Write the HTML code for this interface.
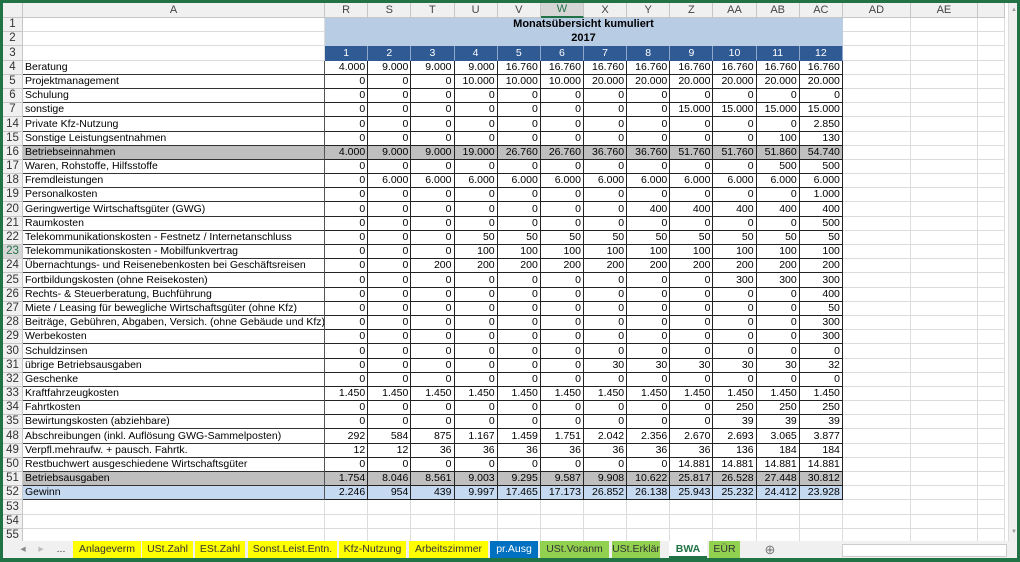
<!DOCTYPE html>
<html><head><meta charset="utf-8"><style>
body{margin:0;width:1020px;height:562px;background:#217346;position:relative;overflow:hidden;font-family:"Liberation Sans",sans-serif}
#sheet{position:absolute;left:3px;top:3px;width:1014px;height:538px;background:#fff;overflow:hidden}
table{position:absolute;left:0;top:0;border-collapse:separate;border-spacing:0;table-layout:fixed;width:1002px}
td{padding:0 2px;border-right:1px solid #dcdcdc;border-bottom:1px solid #dcdcdc;height:14.2px;box-sizing:border-box;white-space:nowrap;overflow:hidden;font-size:10.5px;line-height:13px;color:#000;vertical-align:bottom}
tr.h td{height:13.3px;background:#f0f0f0;text-align:center;color:#444;border-color:#c6c6c6;font-size:11px;vertical-align:middle}
td.n{background:#f0f0f0;text-align:center;color:#333;border-color:#c6c6c6;font-size:11.5px;padding:0}
tr.d td:nth-child(2){border-bottom-color:#333;border-right-color:#555}
tr.d td:nth-child(n+3):nth-child(-n+14){text-align:right;border-color:#222}
tr.t td.m{background:#b8cce4;font-weight:bold;text-align:center;border-right:1px solid #b8cce4;border-bottom-color:#b8cce4;font-size:11px}
tr.b td.k{background:#2f5a93;color:#fff;text-align:center;border-right:1px solid #8ea9cf;border-bottom:1px solid #2f5a93}
tr.g td:nth-child(2),tr.g td:nth-child(n+3):nth-child(-n+14){background:#bfbfbf}
tr.l td:nth-child(2),tr.l td:nth-child(n+3):nth-child(-n+14){background:#c5d9f1}
#vs{position:absolute;left:1005px;top:0;width:9px;height:538px;background:#f0f0f0;border-left:1px solid #ddd}
#tabs{position:absolute;left:3px;top:541px;width:1014px;height:17px;background:#f0f0f0}
.tab{position:absolute;top:0;height:17px;font-size:10.5px;line-height:17px;text-align:center;color:#333}
.y{background:#ffff00}.gr{background:#92d050}.bl{background:#0070c0;color:#fff}
</style></head><body>
<div id="sheet">
<table>
<colgroup><col style="width:20px"><col style="width:302px">
<col style="width:43.17px"><col style="width:43.17px"><col style="width:43.17px"><col style="width:43.17px"><col style="width:43.17px"><col style="width:43.17px"><col style="width:43.17px"><col style="width:43.17px"><col style="width:43.17px"><col style="width:43.17px"><col style="width:43.17px"><col style="width:43.17px">
<col style="width:68px"><col style="width:67px"><col style="width:27px"></colgroup>
<tr class="h"><td></td><td>A</td><td>R</td><td>S</td><td>T</td><td>U</td><td>V</td><td style="background:#d6d6d6;color:#217346;border-bottom:2px solid #217346">W</td><td>X</td><td>Y</td><td>Z</td><td>AA</td><td>AB</td><td>AC</td><td>AD</td><td>AE</td><td></td></tr>
<tr class="t"><td class="n">1</td><td></td><td class="m" colspan="12">Monatsübersicht kumuliert</td><td></td><td></td><td></td></tr>
<tr class="t"><td class="n">2</td><td></td><td class="m" colspan="12">2017</td><td></td><td></td><td></td></tr>
<tr class="b"><td class="n">3</td><td></td><td class="k">1</td><td class="k">2</td><td class="k">3</td><td class="k">4</td><td class="k">5</td><td class="k">6</td><td class="k">7</td><td class="k">8</td><td class="k">9</td><td class="k">10</td><td class="k">11</td><td class="k">12</td><td></td><td></td><td></td></tr>
<tr class="d"><td class="n">4</td><td>Beratung</td><td>4.000</td><td>9.000</td><td>9.000</td><td>9.000</td><td>16.760</td><td>16.760</td><td>16.760</td><td>16.760</td><td>16.760</td><td>16.760</td><td>16.760</td><td>16.760</td><td></td><td></td><td></td></tr>
<tr class="d"><td class="n">5</td><td>Projektmanagement</td><td>0</td><td>0</td><td>0</td><td>10.000</td><td>10.000</td><td>10.000</td><td>20.000</td><td>20.000</td><td>20.000</td><td>20.000</td><td>20.000</td><td>20.000</td><td></td><td></td><td></td></tr>
<tr class="d"><td class="n">6</td><td>Schulung</td><td>0</td><td>0</td><td>0</td><td>0</td><td>0</td><td>0</td><td>0</td><td>0</td><td>0</td><td>0</td><td>0</td><td>0</td><td></td><td></td><td></td></tr>
<tr class="d"><td class="n">7</td><td>sonstige</td><td>0</td><td>0</td><td>0</td><td>0</td><td>0</td><td>0</td><td>0</td><td>0</td><td>15.000</td><td>15.000</td><td>15.000</td><td>15.000</td><td></td><td></td><td></td></tr>
<tr class="d"><td class="n">14</td><td>Private Kfz-Nutzung</td><td>0</td><td>0</td><td>0</td><td>0</td><td>0</td><td>0</td><td>0</td><td>0</td><td>0</td><td>0</td><td>0</td><td>2.850</td><td></td><td></td><td></td></tr>
<tr class="d"><td class="n">15</td><td>Sonstige Leistungsentnahmen</td><td>0</td><td>0</td><td>0</td><td>0</td><td>0</td><td>0</td><td>0</td><td>0</td><td>0</td><td>0</td><td>100</td><td>130</td><td></td><td></td><td></td></tr>
<tr class="d g"><td class="n">16</td><td>Betriebseinnahmen</td><td>4.000</td><td>9.000</td><td>9.000</td><td>19.000</td><td>26.760</td><td>26.760</td><td>36.760</td><td>36.760</td><td>51.760</td><td>51.760</td><td>51.860</td><td>54.740</td><td></td><td></td><td></td></tr>
<tr class="d"><td class="n">17</td><td>Waren, Rohstoffe, Hilfsstoffe</td><td>0</td><td>0</td><td>0</td><td>0</td><td>0</td><td>0</td><td>0</td><td>0</td><td>0</td><td>0</td><td>500</td><td>500</td><td></td><td></td><td></td></tr>
<tr class="d"><td class="n">18</td><td>Fremdleistungen</td><td>0</td><td>6.000</td><td>6.000</td><td>6.000</td><td>6.000</td><td>6.000</td><td>6.000</td><td>6.000</td><td>6.000</td><td>6.000</td><td>6.000</td><td>6.000</td><td></td><td></td><td></td></tr>
<tr class="d"><td class="n">19</td><td>Personalkosten</td><td>0</td><td>0</td><td>0</td><td>0</td><td>0</td><td>0</td><td>0</td><td>0</td><td>0</td><td>0</td><td>0</td><td>1.000</td><td></td><td></td><td></td></tr>
<tr class="d"><td class="n">20</td><td>Geringwertige Wirtschaftsgüter (GWG)</td><td>0</td><td>0</td><td>0</td><td>0</td><td>0</td><td>0</td><td>0</td><td>400</td><td>400</td><td>400</td><td>400</td><td>400</td><td></td><td></td><td></td></tr>
<tr class="d"><td class="n">21</td><td>Raumkosten</td><td>0</td><td>0</td><td>0</td><td>0</td><td>0</td><td>0</td><td>0</td><td>0</td><td>0</td><td>0</td><td>0</td><td>500</td><td></td><td></td><td></td></tr>
<tr class="d"><td class="n">22</td><td>Telekommunikationskosten - Festnetz / Internetanschluss</td><td>0</td><td>0</td><td>0</td><td>50</td><td>50</td><td>50</td><td>50</td><td>50</td><td>50</td><td>50</td><td>50</td><td>50</td><td></td><td></td><td></td></tr>
<tr class="d"><td class="n" style="background:#d6d6d6;color:#217346">23</td><td>Telekommunikationskosten - Mobilfunkvertrag</td><td>0</td><td>0</td><td>0</td><td>100</td><td>100</td><td>100</td><td>100</td><td>100</td><td>100</td><td>100</td><td>100</td><td>100</td><td></td><td></td><td></td></tr>
<tr class="d"><td class="n">24</td><td>Übernachtungs- und Reisenebenkosten bei Geschäftsreisen</td><td>0</td><td>0</td><td>200</td><td>200</td><td>200</td><td>200</td><td>200</td><td>200</td><td>200</td><td>200</td><td>200</td><td>200</td><td></td><td></td><td></td></tr>
<tr class="d"><td class="n">25</td><td>Fortbildungskosten (ohne Reisekosten)</td><td>0</td><td>0</td><td>0</td><td>0</td><td>0</td><td>0</td><td>0</td><td>0</td><td>0</td><td>300</td><td>300</td><td>300</td><td></td><td></td><td></td></tr>
<tr class="d"><td class="n">26</td><td>Rechts- &amp; Steuerberatung, Buchführung</td><td>0</td><td>0</td><td>0</td><td>0</td><td>0</td><td>0</td><td>0</td><td>0</td><td>0</td><td>0</td><td>0</td><td>400</td><td></td><td></td><td></td></tr>
<tr class="d"><td class="n">27</td><td>Miete / Leasing für bewegliche Wirtschaftsgüter (ohne Kfz)</td><td>0</td><td>0</td><td>0</td><td>0</td><td>0</td><td>0</td><td>0</td><td>0</td><td>0</td><td>0</td><td>0</td><td>50</td><td></td><td></td><td></td></tr>
<tr class="d"><td class="n">28</td><td>Beiträge, Gebühren, Abgaben, Versich. (ohne Gebäude und Kfz)</td><td>0</td><td>0</td><td>0</td><td>0</td><td>0</td><td>0</td><td>0</td><td>0</td><td>0</td><td>0</td><td>0</td><td>300</td><td></td><td></td><td></td></tr>
<tr class="d"><td class="n">29</td><td>Werbekosten</td><td>0</td><td>0</td><td>0</td><td>0</td><td>0</td><td>0</td><td>0</td><td>0</td><td>0</td><td>0</td><td>0</td><td>300</td><td></td><td></td><td></td></tr>
<tr class="d"><td class="n">30</td><td>Schuldzinsen</td><td>0</td><td>0</td><td>0</td><td>0</td><td>0</td><td>0</td><td>0</td><td>0</td><td>0</td><td>0</td><td>0</td><td>0</td><td></td><td></td><td></td></tr>
<tr class="d"><td class="n">31</td><td>übrige Betriebsausgaben</td><td>0</td><td>0</td><td>0</td><td>0</td><td>0</td><td>0</td><td>30</td><td>30</td><td>30</td><td>30</td><td>30</td><td>32</td><td></td><td></td><td></td></tr>
<tr class="d"><td class="n">32</td><td>Geschenke</td><td>0</td><td>0</td><td>0</td><td>0</td><td>0</td><td>0</td><td>0</td><td>0</td><td>0</td><td>0</td><td>0</td><td>0</td><td></td><td></td><td></td></tr>
<tr class="d"><td class="n">33</td><td>Kraftfahrzeugkosten</td><td>1.450</td><td>1.450</td><td>1.450</td><td>1.450</td><td>1.450</td><td>1.450</td><td>1.450</td><td>1.450</td><td>1.450</td><td>1.450</td><td>1.450</td><td>1.450</td><td></td><td></td><td></td></tr>
<tr class="d"><td class="n">34</td><td>Fahrtkosten</td><td>0</td><td>0</td><td>0</td><td>0</td><td>0</td><td>0</td><td>0</td><td>0</td><td>0</td><td>250</td><td>250</td><td>250</td><td></td><td></td><td></td></tr>
<tr class="d"><td class="n">35</td><td>Bewirtungskosten (abziehbare)</td><td>0</td><td>0</td><td>0</td><td>0</td><td>0</td><td>0</td><td>0</td><td>0</td><td>0</td><td>39</td><td>39</td><td>39</td><td></td><td></td><td></td></tr>
<tr class="d"><td class="n">48</td><td>Abschreibungen (inkl. Auflösung GWG-Sammelposten)</td><td>292</td><td>584</td><td>875</td><td>1.167</td><td>1.459</td><td>1.751</td><td>2.042</td><td>2.356</td><td>2.670</td><td>2.693</td><td>3.065</td><td>3.877</td><td></td><td></td><td></td></tr>
<tr class="d"><td class="n">49</td><td>Verpfl.mehraufw. + pausch. Fahrtk.</td><td>12</td><td>12</td><td>36</td><td>36</td><td>36</td><td>36</td><td>36</td><td>36</td><td>36</td><td>136</td><td>184</td><td>184</td><td></td><td></td><td></td></tr>
<tr class="d"><td class="n">50</td><td>Restbuchwert ausgeschiedene Wirtschaftsgüter</td><td>0</td><td>0</td><td>0</td><td>0</td><td>0</td><td>0</td><td>0</td><td>0</td><td>14.881</td><td>14.881</td><td>14.881</td><td>14.881</td><td></td><td></td><td></td></tr>
<tr class="d g"><td class="n">51</td><td>Betriebsausgaben</td><td>1.754</td><td>8.046</td><td>8.561</td><td>9.003</td><td>9.295</td><td>9.587</td><td>9.908</td><td>10.622</td><td>25.817</td><td>26.528</td><td>27.448</td><td>30.812</td><td></td><td></td><td></td></tr>
<tr class="d l"><td class="n">52</td><td>Gewinn</td><td>2.246</td><td>954</td><td>439</td><td>9.997</td><td>17.465</td><td>17.173</td><td>26.852</td><td>26.138</td><td>25.943</td><td>25.232</td><td>24.412</td><td>23.928</td><td></td><td></td><td></td></tr>
<tr><td class="n">53</td><td></td><td></td><td></td><td></td><td></td><td></td><td></td><td></td><td></td><td></td><td></td><td></td><td></td><td></td><td></td><td></td></tr>
<tr><td class="n">54</td><td></td><td></td><td></td><td></td><td></td><td></td><td></td><td></td><td></td><td></td><td></td><td></td><td></td><td></td><td></td><td></td></tr>
<tr><td class="n">55</td><td></td><td></td><td></td><td></td><td></td><td></td><td></td><td></td><td></td><td></td><td></td><td></td><td></td><td></td><td></td><td></td></tr>
</table>
<div id="vs"><div style="position:absolute;left:2px;top:4px;font-size:6px;color:#999">▲</div><div style="position:absolute;left:2px;top:526px;font-size:6px;color:#999">▼</div></div>
</div>
<div id="tabs">
<div class="tab" style="left:14px;width:12px;color:#888">◂</div>
<div class="tab" style="left:32px;width:12px;color:#bbb">▸</div>
<div class="tab" style="left:50px;width:16px">...</div>
<div class="tab y" style="left:70px;width:68px">Anlageverm</div>
<div class="tab y" style="left:139px;width:51px">USt.Zahl</div>
<div class="tab y" style="left:192px;width:50px">ESt.Zahl</div>
<div class="tab y" style="left:245px;width:89px">Sonst.Leist.Entn.</div>
<div class="tab y" style="left:336px;width:67px">Kfz-Nutzung</div>
<div class="tab y" style="left:406px;width:79px">Arbeitszimmer</div>
<div class="tab bl" style="left:487px;width:48px">pr.Ausg</div>
<div class="tab gr" style="left:537px;width:69px">USt.Voranm</div>
<div class="tab gr" style="left:609px;width:48px">USt.Erklär</div>
<div class="tab" style="left:666px;width:38px;background:#fff;color:#217346;font-weight:bold;border-bottom:2px solid #217346;box-sizing:border-box">BWA</div>
<div class="tab gr" style="left:706px;width:31px">EÜR</div>
<div class="tab" style="left:760px;width:14px;color:#777;font-size:13px">⊕</div>
<div style="position:absolute;left:839px;top:3px;width:163px;height:11px;background:#fff;border:1px solid #ccc"></div>
</div>
</body></html>
